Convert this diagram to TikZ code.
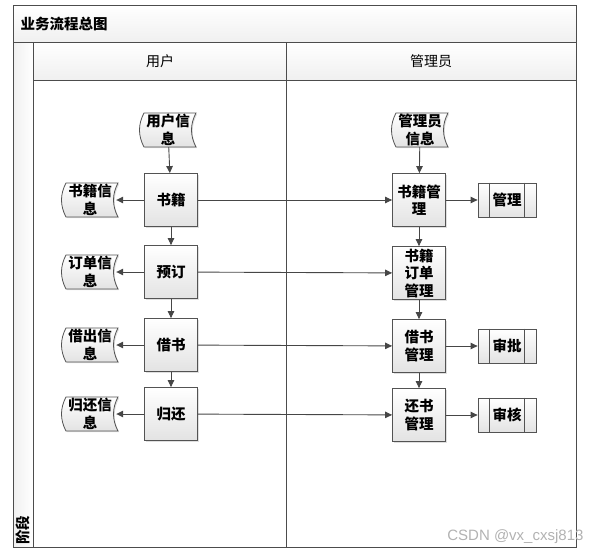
\documentclass[tikz,border=0pt]{standalone}
\usepackage{fontspec}
\newfontfamily\cjk{Noto Sans CJK SC}
\newfontfamily\wmfont{Liberation Sans}
\usetikzlibrary{arrows.meta,shadows}
\newcommand\txtfont{\cjk\bfseries\fontsize{14.5}{17.5}\selectfont}
\newcommand\hdfont{\cjk\fontsize{14}{16}\selectfont}
\newcommand\dstore[4]{%
  \begin{scope}[shift={(#2,#3)}]
    \path[boxline, top color=white, bottom color=gray!22,
      drop shadow={shadow xshift=1.2pt,shadow yshift=-1.2pt,opacity=0.25}]
      (-24,-17) -- (28,-17) .. controls (22,-6) and (22,6) .. (28,17)
      -- (-24,17) .. controls (-30,6) and (-30,-6) .. (-24,-17) -- cycle;
  \end{scope}
  \node[store] (#1) at (#2,#3) {#4};}
\begin{document}
\begin{tikzpicture}[x=1pt,y=-1pt,
  boxline/.style={draw=gray!65!black, line width=0.8pt},
  conn/.style={draw=gray!55!black, line width=0.9pt, -{Triangle[length=7pt,width=6.5pt]}},
  proc/.style={rectangle, boxline, top color=white, bottom color=gray!22,
    minimum width=53pt, minimum height=53pt, inner sep=1pt, align=center, font=\txtfont,
    drop shadow={shadow xshift=1.2pt,shadow yshift=-1.2pt,opacity=0.25}},
  predef/.style={rectangle, boxline, top color=white, bottom color=gray!22,
    minimum width=58pt, minimum height=34pt, inner sep=1pt, align=center, font=\txtfont,
    drop shadow={shadow xshift=1.2pt,shadow yshift=-1.2pt,opacity=0.25}},
  store/.style={inner sep=0pt, minimum width=52pt, minimum height=34pt, align=center, font=\txtfont},
  frame/.style={draw=gray!60!black, line width=1pt},
  band/.style={top color=white, bottom color=gray!12}
]
\useasboundingbox (0,0) rectangle (600,555);
% bands
\path[band] (13,5) rectangle (576,42);
\path[band] (33,42) rectangle (576,80);
\path[left color=gray!12, right color=white] (13,42) rectangle (33,547);
% frame lines
\draw[frame] (13,5) rectangle (576,547);
\draw[frame] (13,42) -- (576,42);
\draw[frame] (33,42) -- (33,547);
\draw[frame] (33,80) -- (576,80);
\draw[frame] (286,42) -- (286,547);
% labels
\node[font=\txtfont, anchor=west] (title) at (17,24) {业务流程总图};
\node[font=\hdfont] (hu) at (160,61) {用户};
\node[font=\hdfont] (ha) at (431,61) {管理员};
\node[font=\txtfont, rotate=90] (stage) at (23,530) {阶段};
% user column
\dstore{uinfo}{168}{130}{用户信\\息}
\node[proc] (book) at (171,200) {书籍};
\dstore{binfo}{90}{200}{书籍信\\息}
\node[proc] (order) at (171,272) {预订};
\dstore{oinfo}{90}{272}{订单信\\息}
\node[proc] (borrow) at (171,345) {借书};
\dstore{brinfo}{90}{345}{借出信\\息}
\node[proc] (ret) at (171,414) {归还};
\dstore{rinfo}{90}{414}{归还信\\息}
% admin column
\dstore{ainfo}{420}{130}{管理员\\信息}
\node[proc] (bm) at (419,200) {书籍管\\理};
\node[proc] (om) at (419,273) {书籍\\订单\\管理};
\node[proc] (brm) at (419,346) {借书\\管理};
\node[proc] (rm) at (419,415) {还书\\管理};
\node[predef] (mg) at (507,200) {管理};
\node[predef] (sp) at (507,346) {审批};
\node[predef] (sh) at (507,415) {审核};
\foreach \n in {mg,sp,sh}{
  \draw[boxline] ([xshift=12pt]\n.north west) -- ([xshift=12pt]\n.south west);
  \draw[boxline] ([xshift=-12pt]\n.north east) -- ([xshift=-12pt]\n.south east);
}
% connectors
\draw[conn] (uinfo) -- (book);
\draw[conn] (book) -- (binfo);
\draw[conn] (book) -- (order);
\draw[conn] (book) -- (bm);
\draw[conn] (order) -- (oinfo);
\draw[conn] (order) -- (borrow);
\draw[conn] (order) -- (om);
\draw[conn] (borrow) -- (brinfo);
\draw[conn] (borrow) -- (ret);
\draw[conn] (borrow) -- (brm);
\draw[conn] (ret) -- (rinfo);
\draw[conn] (ret) -- (rm);
\draw[conn] (ainfo) -- (bm);
\draw[conn] (bm) -- (mg);
\draw[conn] (bm) -- (om);
\draw[conn] (om) -- (brm);
\draw[conn] (brm) -- (sp);
\draw[conn] (brm) -- (rm);
\draw[conn] (rm) -- (sh);
% watermark
\node[font=\wmfont\fontsize{15}{17}\selectfont, text=gray!60, anchor=east] (wm) at (587,537) {CSDN @vx\_cxsj813};
\end{tikzpicture}
\end{document}
